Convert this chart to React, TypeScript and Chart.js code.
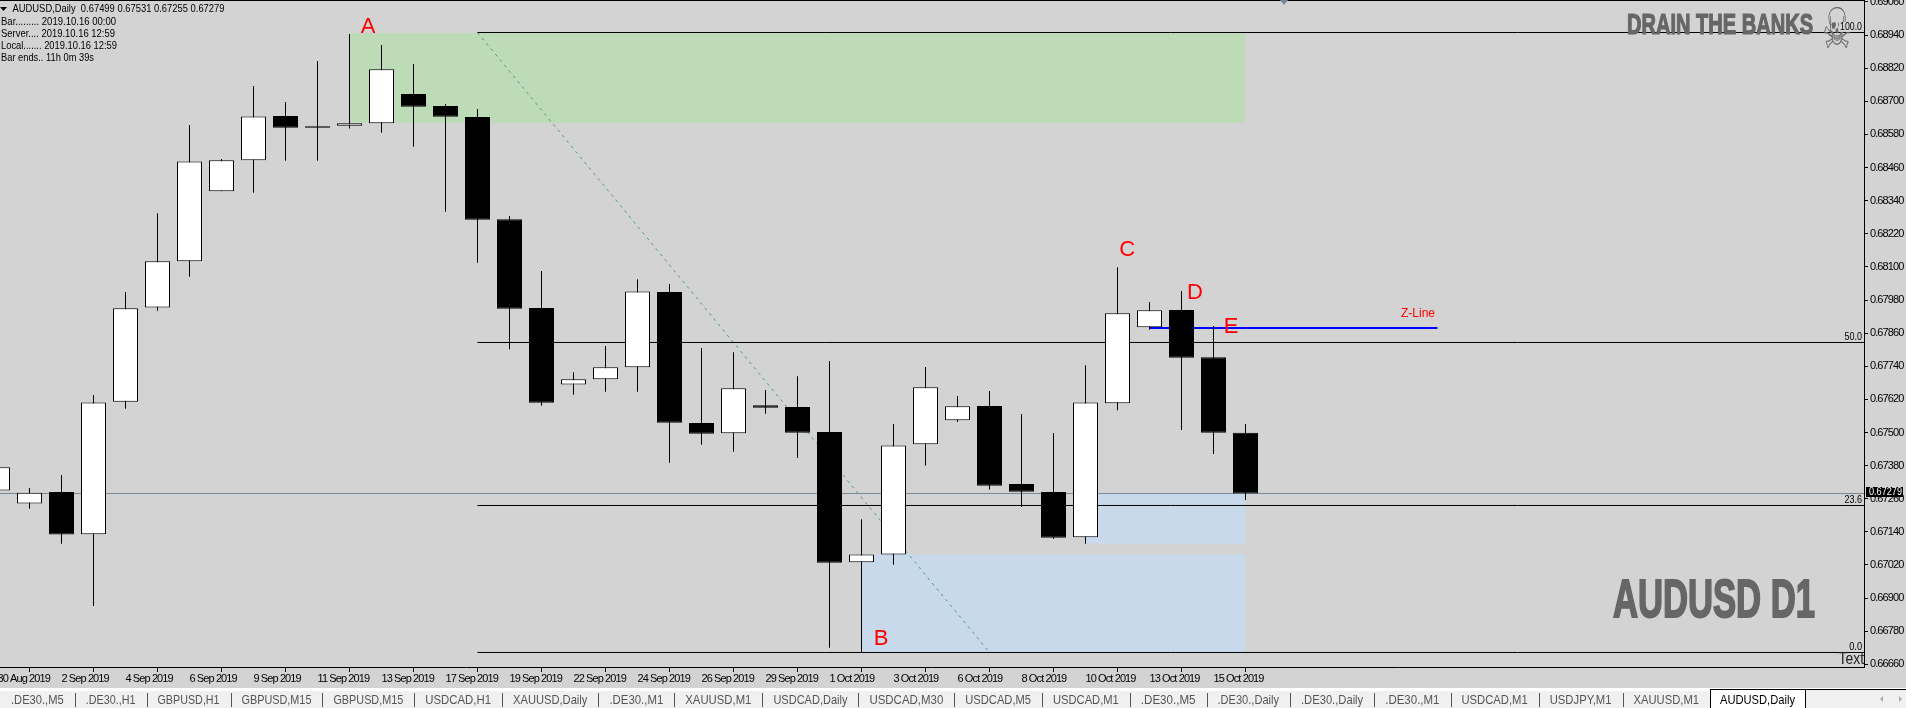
import React, { useEffect, useRef } from "react";
import { Chart, registerables } from "chart.js";

Chart.register(...registerables);

const dates = ["30 Aug 2019","1 Sep 2019","2 Sep 2019","3 Sep 2019","4 Sep 2019","5 Sep 2019","6 Sep 2019","8 Sep 2019","9 Sep 2019","10 Sep 2019","11 Sep 2019","12 Sep 2019","13 Sep 2019","16 Sep 2019","17 Sep 2019","18 Sep 2019","19 Sep 2019","20 Sep 2019","22 Sep 2019","23 Sep 2019","24 Sep 2019","25 Sep 2019","26 Sep 2019","27 Sep 2019","29 Sep 2019","30 Sep 2019","1 Oct 2019","2 Oct 2019","3 Oct 2019","4 Oct 2019","6 Oct 2019","7 Oct 2019","8 Oct 2019","9 Oct 2019","10 Oct 2019","11 Oct 2019","13 Oct 2019","14 Oct 2019","15 Oct 2019","16 Oct 2019"];
const opens = [.67290,.67243,.67284,.67131,.67611,.67953,.68120,.68374,.68486,.68647,.68610,.68611,.68620,.68726,.68683,.68643,.68273,.67951,.67674,.67693,.67736,.68009,.67534,.67497,.67599,.67592,.67502,.67030,.67058,.67457,.67544,.67596,.67313,.67284,.67120,.67606,.67881,.67944,.67773,.67499];
const highs = [.67382,.67299,.67346,.67636,.68009,.68294,.68614,.68491,.68755,.68697,.68846,.68944,.68904,.68835,.68690,.68672,.68284,.68085,.67718,.67813,.68055,.68038,.67806,.67791,.67654,.67704,.67759,.67186,.67531,.67737,.67632,.67650,.67567,.67498,.67744,.68099,.67973,.68013,.67886,.67531];
const lows = [.67284,.67224,.67097,.66871,.67586,.67941,.68064,.68374,.68369,.68485,.68485,.68601,.68586,.68535,.68300,.68115,.67802,.67597,.67637,.67648,.67648,.67390,.67456,.67430,.67568,.67408,.66720,.66704,.67021,.67380,.67538,.67293,.67231,.67114,.67097,.67581,.67872,.67509,.67422,.67255];
const closes = [.67374,.67282,.67130,.67609,.67950,.68120,.68482,.68486,.68645,.68604,.68604,.68620,.68816,.68680,.68644,.68271,.67948,.67608,.67693,.67736,.68011,.67535,.67495,.67660,.67590,.67499,.67028,.67058,.67453,.67664,.67595,.67307,.67285,.67119,.67609,.67932,.67943,.67771,.67499,.67279];

const priceTicks = [.6906,.6894,.6882,.687,.6858,.6846,.6834,.6822,.681,.6798,.6786,.6774,.6762,.675,.6738,.6726,.6714,.6702,.669,.6678,.6666];
const dateTicks = [0,2,4,6,8,10,12,14,16,18,20,22,24,26,28,30,32,34,36,38];

const fibLevels = [0.689492, 0.678261, 0.672355, 0.667029];
const fibNames = ["100.0", "50.0", "23.6", "0.0"];
const fibNameWidths = [22, 17.5, 17.5, 12.8];
const fibStart = 15;
const lastPrice = 0.67279;
const zLinePrice = 0.678786;
const zLineSpan = [36, 45];
const trendFrom = [15, 0.689492];
const trendTo = [31, 0.667029];
const greenZone = [11, 39, 0.68947, 0.68621];
const blueZoneLow = [27, 39, 0.67058, 0.667029];
const blueZoneHigh = [34, 39, 0.67279, 0.67097];

const letterLabels = ["A", "B", "C", "D", "E"];
const letterX = [11.58, 27.61, 35.3, 37.42, 38.55];
const letterY = [.68970, .66752, .68160, .68004, .67884];

const infoLines = ["Bar......... 2019.10.16 00:00", "Server.... 2019.10.16 12:59", "Local....... 2019.10.16 12:59", "Bar ends.. 11h 0m 39s"];
const infoWidths = [115, 114, 116, 93];
const headerText = "AUDUSD,Daily  0.67499 0.67531 0.67255 0.67279";

const tabNames = [".DE30.,M5",".DE30.,H1","GBPUSD,H1","GBPUSD,M15","GBPUSD,M15","USDCAD,H1","XAUUSD,Daily",".DE30.,M1","XAUUSD,M1","USDCAD,Daily","USDCAD,M30","USDCAD,M5","USDCAD,M1",".DE30.,M5",".DE30.,Daily",".DE30.,Daily",".DE30.,M1","USDCAD,M1","USDJPY,M1","XAUUSD,M1"];
const tabEdges = [0,74.7,146.5,230.6,322.4,414.3,502,598.4,674.3,762.4,858.4,954.3,1042,1129.8,1206.5,1290,1374.2,1450.5,1538.7,1622.5,1710];
const activeTab = "AUDUSD,Daily";

const FONT = '"Liberation Sans", sans-serif';
const INK = "#666666";

const overlay = {
  id: "overlay",
  beforeDraw(chart: any) {
    const { ctx, width, height } = chart;
    ctx.fillStyle = "#D3D3D3";
    ctx.fillRect(0, 0, width, height);
    ctx.letterSpacing = "-0.9px";
  },
  beforeDatasetsDraw(chart: any) {
    chart.ctx.letterSpacing = "0px";
  },
  afterDatasetsDraw(chart: any) {
    const { ctx, scales: { x, y }, chartArea } = chart;
    ctx.save();
    ctx.letterSpacing = "0px";
    ctx.fillStyle = "#000";
    ctx.fillRect(0, 0, chartArea.right, 1);
    // watermarks
    ctx.fillStyle = INK;
    ctx.strokeStyle = INK;
    ctx.lineWidth = 1.2;
    ctx.textBaseline = "alphabetic";
    ctx.textAlign = "left";
    ctx.font = `bold 29px ${FONT}`;
    ctx.strokeText("DRAIN THE BANKS", 1627, 34, 186);
    ctx.fillText("DRAIN THE BANKS", 1627, 34, 186);
    ctx.font = `bold 54px ${FONT}`;
    ctx.lineWidth = 2;
    ctx.strokeText("AUDUSD D1", 1613, 617, 202);
    ctx.fillText("AUDUSD D1", 1613, 617, 202);
    ctx.textAlign = "center";
    ctx.textBaseline = "middle";
    ctx.font = '56px "DejaVu Sans"';
    ctx.fillText("\u2620", 1837, 33, 30);
    // small marker at the top
    ctx.fillStyle = "#778899";
    ctx.beginPath();
    ctx.moveTo(1280, 0);
    ctx.lineTo(1288, 0);
    ctx.lineTo(1284, 5);
    ctx.closePath();
    ctx.fill();
    // letters
    ctx.fillStyle = "#FF0000";
    ctx.font = `22px ${FONT}`;
    letterLabels.forEach((t, i) => {
      ctx.fillText(t, x.getPixelForValue(letterX[i]), y.getPixelForValue(letterY[i]));
    });
    ctx.font = `13px ${FONT}`;
    ctx.fillText("Z-Line", x.getPixelForValue(44.39), y.getPixelForValue(0.67933), 34);
    // fibonacci level names
    ctx.font = `11px ${FONT}`;
    ctx.textAlign = "right";
    fibNames.forEach((t, i) => {
      const py = y.getPixelForValue(fibLevels[i]) - 5.6;
      ctx.fillStyle = "#D3D3D3";
      ctx.fillRect(chartArea.right - 3 - fibNameWidths[i], py - 5, fibNameWidths[i] + 2, 10);
      ctx.fillStyle = "#000";
      ctx.fillText(t, chartArea.right - 2, py, fibNameWidths[i]);
    });
    ctx.fillStyle = "#222";
    ctx.font = `17px ${FONT}`;
    ctx.fillText("Text", chartArea.right, 659, 25.5);
    // header
    ctx.fillStyle = "#000";
    ctx.textAlign = "left";
    ctx.font = `11px ${FONT}`;
    ctx.fillText(headerText, 12.5, 9, 212);
    infoLines.forEach((t, i) => ctx.fillText(t, 1, 22 + i * 12, infoWidths[i]));
    ctx.beginPath();
    ctx.moveTo(0, 7);
    ctx.lineTo(7, 7);
    ctx.lineTo(3.5, 11);
    ctx.closePath();
    ctx.fill();
    ctx.restore();
  },
  afterDraw(chart: any) {
    const { ctx, width, height, scales: { y } } = chart;
    ctx.save();
    ctx.letterSpacing = "0px";
    // last price tag
    const py = Math.round(y.getPixelForValue(lastPrice));
    ctx.fillStyle = "#000";
    ctx.fillRect(1866, py - 6, 37, 10);
    ctx.fillStyle = "#fff";
    ctx.font = `11px ${FONT}`;
    ctx.textBaseline = "middle";
    ctx.textAlign = "left";
    ctx.fillText(lastPrice.toFixed(5), 1869, py - 1, 33);
    // tab strip
    ctx.fillStyle = "#FFFFFF";
    ctx.fillRect(0, 688, width, 3);
    ctx.fillStyle = "#F0F0F0";
    ctx.fillRect(0, 691, width, height - 691);
    ctx.font = `13px ${FONT}`;
    ctx.textAlign = "center";
    tabNames.forEach((t, i) => {
      ctx.fillStyle = "#555";
      ctx.fillText(t, (tabEdges[i] + tabEdges[i + 1]) / 2, 700, tabEdges[i + 1] - tabEdges[i] - 22);
      if (i < tabNames.length - 1) ctx.fillRect(Math.round(tabEdges[i + 1]), 693, 1, 14);
    });
    ctx.fillStyle = "#F0F0F0";
    ctx.fillRect(1805, 690, 101, 18);
    ctx.fillStyle = "#fff";
    ctx.fillRect(1710, 690, 95, 18);
    ctx.fillStyle = "#000";
    ctx.fillRect(1710, 689, 196, 1);
    ctx.fillRect(1710, 689, 1, 19);
    ctx.fillRect(1805, 689, 1, 19);
    ctx.fillText(activeTab, 1757.5, 700, 75);
    ctx.fillStyle = "#aaa";
    ctx.beginPath();
    ctx.moveTo(1883, 696); ctx.lineTo(1883, 702); ctx.lineTo(1880, 699); ctx.closePath();
    ctx.moveTo(1899, 696); ctx.lineTo(1899, 702); ctx.lineTo(1902, 699); ctx.closePath();
    ctx.fill();
    ctx.restore();
  },
};

function levelLine(label: string, from: number[], to: number[], color: string, width: number, order: number, dash: number[] = []) {
  return {
    type: "line" as const,
    label,
    data: [{ x: from[0], y: from[1] }, { x: to[0], y: to[1] }],
    borderColor: color,
    borderWidth: width,
    borderDash: dash,
    pointRadius: 0,
    fill: false,
    order,
  };
}

function zone(label: string, z: number[], color: string) {
  return {
    type: "line" as const,
    label,
    data: [{ x: z[0], y: z[2] }, { x: z[1], y: z[2] }],
    borderWidth: 0,
    borderColor: "rgba(0,0,0,0)",
    pointRadius: 0,
    fill: { target: { value: z[3] }, above: color, below: color },
    order: 10,
  };
}

const noPad = (s: any) => {
  s.paddingLeft = 0;
  s.paddingRight = 0;
  s.paddingTop = 0;
  s.paddingBottom = 0;
};

export default function App() {
  const ref = useRef<HTMLCanvasElement | null>(null);
  useEffect(() => {
    document.body.style.margin = "0";
    const xMin = 0.078125;
    const xMax = 58.328125;
    const chart = new Chart(ref.current as HTMLCanvasElement, {
      type: "bar",
      data: {
        datasets: [
          {
            type: "bar",
            label: "Body",
            data: opens.map((o, i) => ({ x: i, y: [o, closes[i]] })),
            backgroundColor: opens.map((o, i) => (closes[i] >= o ? "#FFFFFF" : "#000000")),
            borderColor: "#000000",
            borderWidth: 1,
            borderSkipped: false,
            inflateAmount: 0,
            barThickness: 25,
            grouped: false,
            order: 0,
          },
          {
            type: "bar",
            label: "Range",
            data: opens.map((_, i) => ({ x: i, y: [lows[i], highs[i]] })),
            backgroundColor: "#000000",
            borderWidth: 0,
            inflateAmount: 0,
            barThickness: 1,
            grouped: false,
            order: 1,
          },
          levelLine("Last", [xMin, lastPrice], [xMax, lastPrice], "#778899", 1, 2),
          levelLine("Z-Line", [zLineSpan[0], zLinePrice], [zLineSpan[1], zLinePrice], "#0000FF", 2, 3),
          ...fibLevels.map((v, i) => levelLine("Fib " + fibNames[i], [fibStart, v], [xMax, v], "#000000", 1, 4)),
          levelLine("Fib trend", trendFrom, trendTo, "#4F9A9C", 1, 5, [3, 4]),
          zone("Supply", greenZone, "#BEDBB8"),
          zone("Demand low", blueZoneLow, "#C8D9EB"),
          zone("Demand high", blueZoneHigh, "#C8D9EB"),
        ] as any,
      },
      options: {
        responsive: false,
        animation: false,
        devicePixelRatio: 1,
        layout: { autoPadding: false, padding: 0 },
        plugins: { legend: { display: false }, title: { display: false }, tooltip: { enabled: false } },
        elements: { line: { tension: 0 } },
        scales: {
          x: {
            type: "linear",
            min: xMin,
            max: xMax,
            offset: false,
            afterFit: (s: any) => { s.height = 41; noPad(s); },
            afterBuildTicks: (s: any) => { s.ticks = dateTicks.map((v) => ({ value: v })); },
            grid: { drawOnChartArea: false, drawTicks: true, tickLength: 5, color: "#000" },
            border: { display: true, color: "#000" },
            ticks: {
              autoSkip: false,
              maxRotation: 0,
              minRotation: 0,
              align: "start",
              padding: 0,
              color: "#000",
              font: { family: FONT, size: 11 },
              callback: (v: any) => dates[v as number],
            },
          },
          y: {
            type: "linear",
            position: "right",
            min: 0.666503,
            max: 0.69067,
            afterFit: (s: any) => { s.width = 42; noPad(s); },
            afterBuildTicks: (s: any) => { s.ticks = priceTicks.map((v) => ({ value: v })); },
            grid: { drawOnChartArea: false, drawTicks: true, tickLength: 4, color: "#000" },
            border: { display: true, color: "#000" },
            ticks: {
              autoSkip: false,
              padding: 2,
              color: "#000",
              font: { family: FONT, size: 11 },
              callback: (v: any) => Number(v).toFixed(5),
            },
          },
        },
      } as any,
      plugins: [overlay],
    });
    return () => chart.destroy();
  }, []);
  return (
    <div style={{ position: "fixed", left: 0, top: 0, width: 1906, height: 708 }}>
      <canvas ref={ref} width={1906} height={708} style={{ display: "block" }} />
    </div>
  );
}
